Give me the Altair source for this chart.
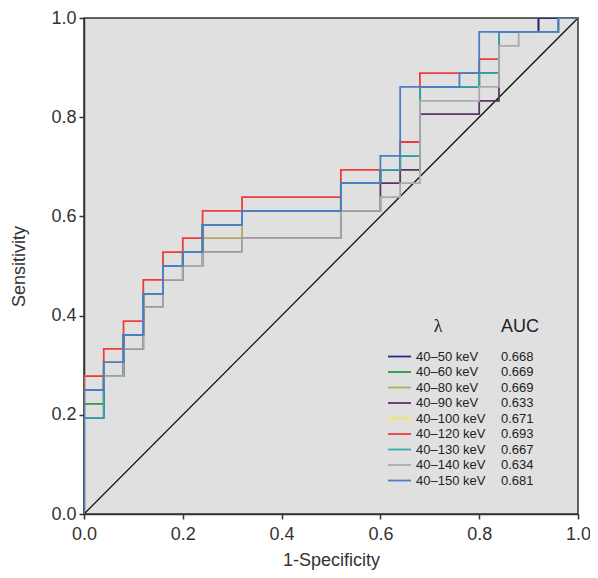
import altair as alt
import pandas as pd

# ROC points (1-Specificity grid, step-after)
FPR = [0, 0, 0.04, 0.08, 0.12, 0.16, 0.2, 0.24, 0.32, 0.52, 0.6, 0.64, 0.68, 0.76, 0.8, 0.84, 0.88, 0.92, 0.96, 1.0]

names = ["40–50 keV", "40–60 keV", "40–80 keV", "40–90 keV", "40–100 keV",
         "40–120 keV", "40–130 keV", "40–140 keV", "40–150 keV"]
aucs = ["0.668", "0.669", "0.669", "0.633", "0.671", "0.693", "0.667", "0.634", "0.681"]
colors = ["#1f2d86", "#2e9a3c", "#b3a95c", "#5a3462", "#f3e84a",
          "#ef3b3b", "#3aa9a9", "#aaaaaa", "#4a7dc4"]

tpr_50 = [0, .194, .278, .361, .444, .5, .528, .583, .611, .667, .694, .722, .861, .861, .889, .972, .972, 1, 1, 1]
tpr_60 = [0, .222, .306, .361, .444, .5, .528, .583, .611, .667, .694, .722, .861, .861, .889, .972, .972, .972, 1, 1]
tpr_80 = [0, .278, .306, .361, .444, .5, .528, .556, .611, .667, .694, .722, .861, .861, .889, .972, .972, .972, 1, 1]
tpr_90 = [0, .25, .278, .333, .417, .472, .5, .528, .556, .611, .667, .694, .806, .806, .833, .972, .972, .972, 1, 1]
tpr_100 = [0, .278, .306, .361, .444, .5, .528, .583, .611, .667, .694, .722, .861, .861, .889, .972, .972, .972, 1, 1]
tpr_120 = [0, .278, .333, .389, .472, .528, .556, .611, .639, .694, .694, .75, .889, .889, .917, .972, .972, 1, 1, 1]
tpr_130 = [0, .194, .278, .361, .444, .5, .528, .583, .611, .667, .694, .722, .861, .861, .889, .972, .972, .972, 1, 1]
tpr_140 = [0, .25, .278, .333, .417, .472, .5, .528, .556, .611, .639, .667, .833, .833, .861, .944, .972, .972, 1, 1]
tpr_150 = [0, .25, .306, .361, .444, .5, .528, .583, .611, .667, .722, .861, .861, .889, .972, .972, .972, .972, 1, 1]

tprs = [tpr_50, tpr_60, tpr_80, tpr_90, tpr_100, tpr_120, tpr_130, tpr_140, tpr_150]
draw_order = ["40–60 keV", "40–80 keV", "40–100 keV", "40–120 keV", "40–50 keV",
              "40–90 keV", "40–130 keV", "40–140 keV", "40–150 keV"]

rows = []
for n, t in zip(names, tprs):
    for i, (x, y) in enumerate(zip(FPR, t)):
        rows.append({"series": n, "idx": i, "fpr": x, "tpr": y})
df = pd.DataFrame(rows)

xs = alt.Scale(domain=[0, 1], nice=False, zero=False)
ys = alt.Scale(domain=[0, 1], nice=False, zero=False)
cs = alt.Scale(domain=names, range=colors)
ticks = [0, 0.2, 0.4, 0.6, 0.8, 1.0]

base = alt.Chart(df)

diag = alt.Chart(pd.DataFrame({"a": [0, 1]})).mark_line(color="#111", strokeWidth=1.3).encode(
    x=alt.X("a:Q", scale=xs, title="1-Specificity",
            axis=alt.Axis(values=ticks, format=".1f", labelFlush=False,
                          labelPadding=6, titlePadding=8)),
    y=alt.Y("a:Q", scale=ys, title="Sensitivity",
            axis=alt.Axis(values=ticks, format=".1f", labelFlush=False,
                          labelPadding=3, titlePadding=22)),
)

layers = [diag]
for n in draw_order:
    layers.append(
        base.transform_filter(alt.datum.series == n).mark_line(
            interpolate="step-after", strokeWidth=1.8, clip=True
        ).encode(
            x=alt.X("fpr:Q", scale=xs),
            y=alt.Y("tpr:Q", scale=ys),
            order="idx:Q",
            color=alt.Color("series:N", scale=cs, legend=None),
        )
    )

leg = pd.DataFrame({"series": names, "auc": aucs, "i": list(range(len(names)))})
legbase = alt.Chart(leg).transform_calculate(ly="0.3175 - 0.03125 * datum.i")
sw = legbase.mark_rule(strokeWidth=1.8).encode(
    x=alt.value(304), x2=alt.value(327),
    y=alt.Y("ly:Q", scale=ys),
    color=alt.Color("series:N", scale=cs, legend=None),
)
lab = legbase.mark_text(align="left", baseline="middle", fontSize=13, color="#222",
                        font="Liberation Sans").encode(
    x=alt.value(332), y=alt.Y("ly:Q", scale=ys), text="series:N")
av = legbase.mark_text(align="left", baseline="middle", fontSize=13, color="#222",
                       font="Liberation Sans").encode(
    x=alt.value(417), y=alt.Y("ly:Q", scale=ys), text="auc:N")

hdr = pd.DataFrame({"t": ["λ", "AUC"]})
h1 = alt.Chart(hdr.iloc[[0]]).mark_text(align="center", baseline="middle", fontSize=18,
                                        color="#222", font="Liberation Serif").encode(
    x=alt.value(354), y=alt.value(309), text="t:N")
h2 = alt.Chart(hdr.iloc[[1]]).mark_text(align="left", baseline="middle", fontSize=18,
                                        color="#222", font="Liberation Sans").encode(
    x=alt.value(417), y=alt.value(309), text="t:N")

layers += [sw, lab, av, h1, h2]

chart = alt.layer(*layers).properties(
    width=494, height=496,
    autosize=alt.AutoSizeParams(type="none"),
    padding={"left": 76, "top": 10, "right": 12, "bottom": 56},
).configure_view(
    fill="#e0e0e0", stroke="#333", strokeWidth=1.5
).configure_axis(
    grid=False, domainColor="#333", domainWidth=1.5, tickColor="#333", tickWidth=1.5,
    tickSize=5, labelFontSize=18, labelColor="#333", labelFont="Liberation Sans",
    titleFont="Liberation Sans", titleFontSize=18, titleColor="#333", titleFontWeight="normal",
)

chart.save("out.html", embed_options={"renderer": "svg", "actions": False})
